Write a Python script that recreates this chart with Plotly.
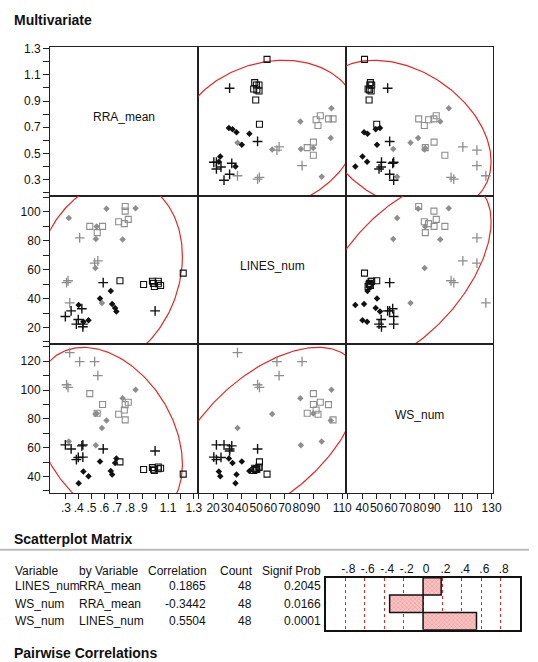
import numpy as np
import plotly.graph_objects as go

W, H = 538, 662

# ---------------- data ----------------
group = ["GP"] * 6 + ["GD"] * 8 + ["GS"] * 8 + ["BP"] * 9 + ["BD"] * 8 + ["BS"] * 9

rra_mean = [
    0.330, 0.408, 0.525, 0.550, 0.305, 0.317,
    0.323, 0.618, 0.845, 0.541, 0.534, 0.744, 0.531, 0.582,
    0.764, 0.764, 0.788, 0.757, 0.713, 0.487, 0.587, 0.545,
    0.592, 0.998, 0.341, 0.296, 0.425, 0.433, 0.382, 0.433, 0.397,
    0.651, 0.567, 0.662, 0.685, 0.695, 0.400, 0.477, 0.437,
    0.723, 0.908, 0.977, 0.992, 1.023, 1.023, 1.041, 0.985, 1.218,
]
lines_num = [
    37.0, 82.0, 64.5, 66.0, 51.0, 52.3,
    95.7, 102.0, 102.5, 89.8, 81.2, 80.8, 61.2, 37.0,
    103.6, 100.4, 94.7, 91.8, 93.1, 89.9, 89.9, 85.6,
    51.0, 31.5, 31.5, 27.6, 33.0, 22.3, 22.3, 20.5, 25.5,
    45.3, 40.0, 36.3, 33.5, 31.0, 35.6, 25.0, 24.0,
    52.3, 49.7, 52.0, 48.3, 52.0, 50.2, 49.0, 50.5, 57.6,
]
ws_num = [
    126.0, 119.8, 119.8, 110.0, 103.7, 101.8,
    64.3, 78.9, 100.2, 83.8, 61.6, 94.3, 83.4, 73.6,
    79.3, 89.9, 91.5, 86.2, 83.2, 97.5, 90.0, 83.9,
    59.1, 57.7, 59.1, 61.9, 61.2, 61.9, 51.7, 53.4, 53.2,
    43.7, 50.3, 41.3, 49.4, 52.4, 35.2, 40.2, 43.4,
    50.1, 44.8, 46.2, 44.1, 46.6, 45.3, 45.7, 45.0, 41.6,
]

var_names = ["RRA_mean", "LINES_num", "WS_num"]

# correlation table
tbl_variable = ["LINES_num", "WS_num", "WS_num"]
tbl_by_variable = ["RRA_mean", "RRA_mean", "LINES_num"]
tbl_correlation = [0.1865, -0.3442, 0.5504]
tbl_count = [48, 48, 48]
tbl_signif = [0.2045, 0.0166, 0.0001]
bar_tick_vals = [-0.8, -0.6, -0.4, -0.2, 0, 0.2, 0.4, 0.6, 0.8]
bar_tick_text = ["-.8", "-.6", "-.4", "-.2", "0", ".2", ".4", ".6", ".8"]

# axis tick labels
rra_x_ticks = [0.3, 0.4, 0.5, 0.6, 0.7, 0.8, 0.9, 1.0, 1.1, 1.2, 1.3]
rra_x_text = [".3", ".4", ".5", ".6", ".7", ".8", ".9", "", "1.1", "", "1.3"]
rra_y_ticks = [0.2, 0.3, 0.4, 0.5, 0.6, 0.7, 0.8, 0.9, 1.0, 1.1, 1.2, 1.3]
rra_y_text = ["", "0.3", "", "0.5", "", "0.7", "", "0.9", "", "1.1", "", "1.3"]
lines_ticks = [10, 20, 30, 40, 50, 60, 70, 80, 90, 100, 110]
lines_x_text = ["", "20", "30", "40", "50", "60", "70", "80", "90", "", "110"]
lines_y_text = ["", "20", "", "40", "", "60", "", "80", "", "100", ""]
ws_ticks = [30, 40, 50, 60, 70, 80, 90, 100, 110, 120, 130]
ws_x_text = ["", "40", "50", "60", "70", "80", "90", "", "110", "", "130"]
ws_y_text = ["", "40", "", "60", "", "80", "", "100", "", "120", ""]

# ---------------- styling / layout ----------------
FONT = "Liberation Sans, Arial, sans-serif"
BLACK = "#111111"
GRAY = "#8e8e8e"
RED = "#e8262a"

data = {"RRA_mean": np.array(rra_mean), "LINES_num": np.array(lines_num), "WS_num": np.array(ws_num)}
grp = np.array(group)

x_ranges = {"RRA_mean": [0.177, 1.336], "LINES_num": [9.7, 112.5], "WS_num": [28.6, 131.2]}
y_ranges = {"RRA_mean": [0.179, 1.315], "LINES_num": [8.3, 111.2], "WS_num": [28.3, 131.7]}
x_ticks = {"RRA_mean": (rra_x_ticks, rra_x_text), "LINES_num": (lines_ticks, lines_x_text),
           "WS_num": (ws_ticks, ws_x_text)}
y_ticks = {"RRA_mean": (rra_y_ticks, rra_y_text), "LINES_num": (lines_ticks, lines_y_text),
           "WS_num": (ws_ticks, ws_y_text)}

col_px = [(51, 201.7), (201.7, 351.7), (351.7, 501.7)]
row_px = [(42, 192), (192, 342), (342, 492)]


def px_x(x):
    return x / W


def px_y(y):
    return 1 - y / H


marker_styles = {
    "GP": dict(symbol="cross-thin-open", size=7, color=GRAY, line=dict(color=GRAY, width=1.3)),
    "GD": dict(symbol="diamond", size=5, color=GRAY, line=dict(width=0)),
    "GS": dict(symbol="square-open", size=6, color=GRAY, line=dict(color=GRAY, width=1.1)),
    "BP": dict(symbol="cross-thin-open", size=7, color=BLACK, line=dict(color=BLACK, width=1.4)),
    "BD": dict(symbol="diamond", size=5, color=BLACK, line=dict(width=0)),
    "BS": dict(symbol="square-open", size=6, color=BLACK, line=dict(color=BLACK, width=1.1)),
}

fig = go.Figure()
layout = dict(
    width=W, height=H, margin=dict(l=0, r=0, t=0, b=0),
    paper_bgcolor="white", plot_bgcolor="white", showlegend=False,
    font=dict(family=FONT, size=12, color=BLACK),
)
annotations = []
shapes = []

t = np.linspace(0, 2 * np.pi, 241)
chi = np.sqrt(5.991)

for r in range(3):
    for c in range(3):
        k = r * 3 + c + 1
        xs = "" if k == 1 else str(k)
        vx, vy = var_names[c], var_names[r]
        xa = dict(
            domain=[px_x(col_px[c][0]), px_x(col_px[c][1])], anchor="y" + xs,
            range=x_ranges[vx], showgrid=False, zeroline=False,
            showline=True, mirror=True, linecolor="#222", linewidth=1.2,
            fixedrange=True,
        )
        ya = dict(
            domain=[px_y(row_px[r][1]), px_y(row_px[r][0])], anchor="x" + xs,
            range=y_ranges[vy], showgrid=False, zeroline=False,
            showline=True, mirror=True, linecolor="#222", linewidth=1.2,
            fixedrange=True,
        )
        if r == 2:
            tv, tt = x_ticks[vx]
            xa.update(tickmode="array", tickvals=tv, ticktext=tt, ticks="outside",
                      ticklen=5, tickcolor="#222", tickangle=0, ticklabelstandoff=-2,
                      tickfont=dict(size=12, color=BLACK))
        else:
            xa.update(showticklabels=False, ticks="")
        if c == 0:
            tv, tt = y_ticks[vy]
            ya.update(tickmode="array", tickvals=tv, ticktext=tt, ticks="outside",
                      ticklen=6, tickcolor="#222", tickfont=dict(size=12, color=BLACK))
        else:
            ya.update(showticklabels=False, ticks="")
        layout["xaxis" + xs] = xa
        layout["yaxis" + xs] = ya

        if r == c:
            # empty trace so the diagonal cell's frame and ticks are drawn
            fig.add_trace(go.Scatter(x=[None], y=[None], mode="markers",
                                     hoverinfo="skip", xaxis="x" + xs, yaxis="y" + xs))
            annotations.append(dict(
                x=(px_x(col_px[c][0]) + px_x(col_px[c][1])) / 2,
                y=px_y((row_px[r][0] + row_px[r][1]) / 2 - 4),
                xref="paper", yref="paper", xanchor="center", yanchor="middle",
                text=vx, showarrow=False,
                font=dict(size=12, color=BLACK, family=FONT)))
            continue

        X = data[vx]
        Y = data[vy]
        # density ellipse (95%) from the bivariate normal fit
        cov = np.cov(np.vstack([X, Y]))
        L = np.linalg.cholesky(cov)
        pts = L @ np.vstack([np.cos(t), np.sin(t)]) * chi
        fig.add_trace(go.Scatter(
            x=X.mean() + pts[0], y=Y.mean() + pts[1], mode="lines",
            line=dict(color=RED, width=1.2), hoverinfo="skip",
            xaxis="x" + xs, yaxis="y" + xs))
        for g in ["GP", "GD", "GS", "BP", "BD", "BS"]:
            m = grp == g
            fig.add_trace(go.Scatter(
                x=X[m], y=Y[m], mode="markers", marker=marker_styles[g],
                xaxis="x" + xs, yaxis="y" + xs, cliponaxis=True))

# ---------------- correlation bar chart ----------------
bx0, bx1, by0, by1 = 331.5, 529, 577, 629.5
fig.add_trace(go.Bar(
    x=tbl_correlation, y=[0, 1, 2], base=0, orientation="h", width=1,
    marker=dict(color="#f6b3b3", line=dict(color=BLACK, width=1.5),
                pattern=dict(shape="x", fgcolor="#e33d3d", bgcolor="#f8c4c4",
                             size=3, solidity=0.25)),
    xaxis="x10", yaxis="y10", hoverinfo="skip"))
layout["xaxis10"] = dict(
    domain=[px_x(bx0), px_x(bx1)], anchor="y10", range=[-1, 1], side="top",
    tickmode="array", tickvals=bar_tick_vals, ticktext=bar_tick_text,
    ticks="", ticklabelshift=3, ticklabelstandoff=-2, tickangle=0,
    tickfont=dict(size=12, color=BLACK),
    showgrid=True, gridcolor=RED, griddash="dot", gridwidth=1, zeroline=False,
    showline=True, mirror=True, linecolor=BLACK, linewidth=1.5, fixedrange=True)
layout["yaxis10"] = dict(
    domain=[px_y(by1), px_y(by0)], anchor="x10", range=[2.5, -0.5],
    showticklabels=False, ticks="", showgrid=False, zeroline=False,
    showline=True, mirror=True, linecolor=BLACK, linewidth=1.5, fixedrange=True)

# ---------------- text ----------------
def txt(x, y, s, anchor="left", size=12, bold=False):
    annotations.append(dict(
        x=px_x(x), y=px_y(y), xref="paper", yref="paper", xanchor=anchor, yanchor="middle",
        text=("<b>%s</b>" % s) if bold else s, showarrow=False,
        font=dict(size=size, color=BLACK, family=FONT)))


txt(12, 15, "Multivariate", size=14, bold=True)
txt(12, 538, "Scatterplot Matrix", size=14, bold=True)
txt(12, 653, "Pairwise Correlations", size=14, bold=True)

shapes.append(dict(type="line", xref="paper", yref="paper", x0=0, x1=1,
                   y0=px_y(549), y1=px_y(549), line=dict(color="#bdbdbd", width=2)))

hy = 570
txt(13, hy, "Variable")
txt(78, hy, "by Variable")
txt(213, hy, "Correlation", anchor="right")
txt(259, hy, "Count", anchor="right")
txt(329, hy, "Signif Prob", anchor="right")
row_y = [585.5, 603.5, 621]
for i in range(3):
    txt(13, row_y[i], tbl_variable[i])
    txt(78, row_y[i], tbl_by_variable[i])
    txt(212, row_y[i], "%.4f" % tbl_correlation[i], anchor="right")
    txt(258, row_y[i], str(tbl_count[i]), anchor="right")
    txt(329, row_y[i], "%.4f" % tbl_signif[i], anchor="right")

layout["annotations"] = annotations
layout["shapes"] = shapes
fig.update_layout(**layout)
fig.write_html(
    "out.html",
    config={"displayModeBar": False},
    post_script="document.body.style.margin='0px';document.body.style.overflow='hidden';",
)
